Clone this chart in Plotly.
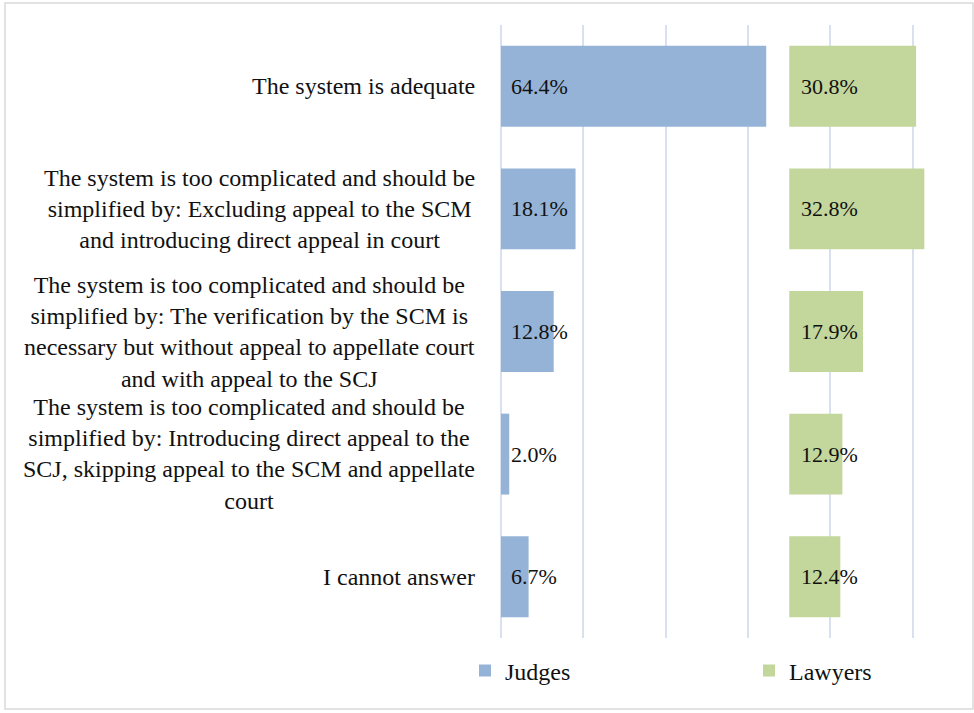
import plotly.graph_objects as go

# Survey answers (top to bottom) and the share of each group choosing them
categories = [
    "The system is adequate",
    "The system is too complicated and should be<br>simplified by: Excluding appeal to the SCM<br>and introducing direct appeal in court",
    "The system is too complicated and should be<br>simplified by: The verification by the SCM is<br>necessary but without appeal to appellate court<br>and with appeal to the SCJ",
    "The system is too complicated and should be<br>simplified by: Introducing direct appeal to the<br>SCJ, skipping appeal to the SCM and appellate<br>court",
    "I cannot answer",
]
judges = [64.4, 18.1, 12.8, 2.0, 6.7]
lawyers = [30.8, 32.8, 17.9, 12.9, 12.4]

# The lawyers' column starts at this offset on the shared percentage axis
lawyers_offset = 70

FONT = "Liberation Serif"
BLUE = "#95B3D7"
GREEN = "#C3D69B"
GRID = "#D9E1F0"

fig = go.Figure()
fig.add_trace(go.Bar(
    name="Judges", y=categories, x=judges, base=0, orientation="h",
    marker=dict(color=BLUE, line=dict(width=0)), width=0.66, hoverinfo="skip",
    legend="legend",
))
fig.add_trace(go.Bar(
    name="Lawyers", y=categories, x=lawyers, base=[lawyers_offset] * len(lawyers),
    orientation="h", marker=dict(color=GREEN, line=dict(width=0)), width=0.66,
    hoverinfo="skip", legend="legend2",
))

annotations = []
# Category labels, centred line by line, right edge next to the axis
for cat in categories:
    annotations.append(dict(
        x=0, y=cat, xref="x", yref="y", text=cat, showarrow=False,
        xanchor="right", yanchor="middle", align="center", xshift=-24,
        font=dict(family=FONT, size=24, color="#111111"),
    ))
# Value labels at the base of each bar
for cat, j, l in zip(categories, judges, lawyers):
    annotations.append(dict(
        x=0, y=cat, xref="x", yref="y", text=f"{j:.1f}%", showarrow=False,
        xanchor="left", yanchor="middle", xshift=8,
        font=dict(family=FONT, size=22, color="#111111"),
    ))
    annotations.append(dict(
        x=lawyers_offset, y=cat, xref="x", yref="y", text=f"{l:.1f}%",
        showarrow=False, xanchor="left", yanchor="middle", xshift=10,
        font=dict(family=FONT, size=22, color="#111111"),
    ))

# Layout geometry in pixels
W, H = 974, 713
L, R, T, B = 501, 20, 25, 75
pw, ph = W - L - R, H - T - B


def px_x(px):
    return (px - L) / pw


def px_y(py):
    return (H - B - py) / ph


legend_style = dict(
    orientation="h", xanchor="left", y=px_y(671), yanchor="middle",
    font=dict(family=FONT, size=24, color="#111111"),
    bgcolor="rgba(0,0,0,0)", borderwidth=0,
)

fig.update_layout(
    width=W, height=H,
    margin=dict(l=L, r=R, t=T, b=B, pad=0),
    paper_bgcolor="white", plot_bgcolor="white",
    barmode="overlay",
    showlegend=True,
    legend=dict(x=px_x(465), **legend_style),
    legend2=dict(x=px_x(749), **legend_style),
    xaxis=dict(
        range=[0, 110], tickvals=[0, 20, 40, 60, 80, 100], showticklabels=False,
        showgrid=True, gridcolor=GRID, gridwidth=1.5,
        zeroline=True, zerolinecolor=GRID, zerolinewidth=1.5,
        showline=False, ticks="", fixedrange=True,
    ),
    yaxis=dict(
        categoryorder="array", categoryarray=categories, autorange="reversed",
        showticklabels=False, showgrid=False, zeroline=False, showline=False,
        ticks="", fixedrange=True,
    ),
    annotations=annotations,
    shapes=[dict(
        type="rect", xref="paper", yref="paper",
        x0=px_x(5), x1=px_x(973), y0=px_y(709), y1=px_y(3),
        line=dict(color="#D9D9D9", width=1.5), fillcolor="rgba(0,0,0,0)",
        layer="below",
    )],
)

fig.write_html("out.html")
